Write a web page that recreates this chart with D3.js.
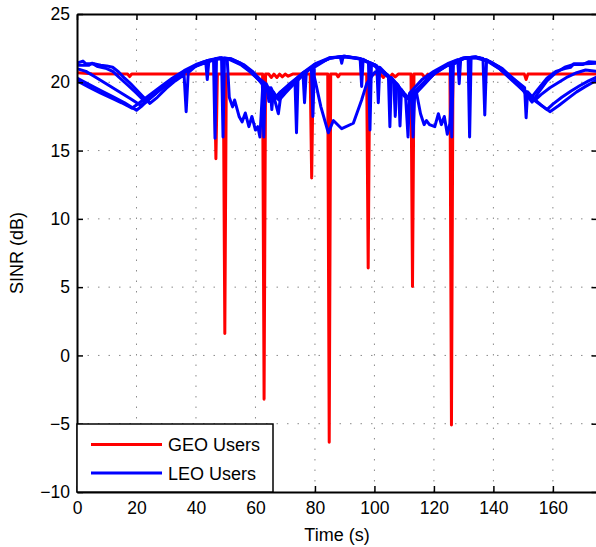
<!DOCTYPE html>
<html><head><meta charset="utf-8">
<script src="https://cdn.jsdelivr.net/npm/d3@7/dist/d3.min.js"></script>
<style>body{margin:0;background:#fff}svg{display:block}</style>
</head><body>
<svg id="c" width="596" height="547"></svg>
<script>
// ---- data ----
const xTicks = [0, 20, 40, 60, 80, 100, 120, 140, 160];
const yTicks = [-10, -5, 0, 5, 10, 15, 20, 25];
const seriesNames = ["GEO Users", "LEO Users"];

const geoT = [0, 5, 17, 17.7, 18.4, 46.2, 46.7, 47.2, 49.2, 49.7, 50.2, 62.4, 62.9, 63.4, 64.5, 65.3, 66.2, 67.2, 68.1, 69, 70, 71, 72.5, 78.4, 78.9, 79.4, 84.3, 84.8, 85.3, 87.2, 87.8, 88.4, 97.4, 97.9, 98.4, 102, 103, 104, 105, 106, 107, 108, 112.3, 112.8, 113.3, 116, 117, 118, 119, 120, 125.4, 125.9, 126.4, 150.4, 151, 151.6, 175];
const geoV = [20.7, 20.62, 20.6, 20.42, 20.6, 20.6, 14.4, 20.6, 20.6, 1.6, 20.6, 20.6, -3.2, 20.6, 20.6, 20.35, 20.6, 20.35, 20.6, 20.4, 20.6, 20.45, 20.6, 20.6, 13.0, 20.6, 20.6, -6.35, 20.6, 20.6, 20.4, 20.6, 20.6, 6.4, 20.6, 20.6, 20.35, 20.6, 20.3, 20.6, 20.4, 20.6, 20.6, 5.05, 20.6, 20.6, 20.35, 20.6, 20.4, 20.6, 20.6, -5.1, 20.6, 20.6, 20.2, 20.6, 20.6];

const leo1T = [0, 2, 3, 6, 8, 10, 12, 14, 16, 18, 20, 22, 24.5, 27, 30, 33, 36, 36.7, 37.4, 40, 44, 48, 52, 55, 58, 61, 63.8, 64.5, 65.2, 66.5, 68, 70, 73, 76, 76.5, 77.1, 80, 85, 88.5, 89, 89.5, 95, 100, 104, 104.7, 105.2, 105.7, 107, 110, 112, 112.5, 113, 113.5, 114, 117, 120, 125, 130, 134, 136.5, 137.1, 137.7, 142, 146, 150, 153, 155, 158, 161, 164, 167, 170, 172, 175];
const leo1V = [21.4, 21.55, 21.35, 21.35, 21.25, 21.2, 21.1, 20.75, 20.3, 19.9, 19.45, 19.0, 18.45, 18.9, 19.55, 20.1, 20.55, 17.85, 20.7, 21.2, 21.6, 21.8, 21.7, 21.4, 20.9, 20.3, 19.85, 18.6, 19.6, 19.0, 18.7, 19.2, 19.9, 20.55, 18.5, 20.75, 21.3, 21.75, 21.88, 21.4, 21.9, 21.75, 21.3, 20.6, 20.5, 16.75, 20.35, 20.0, 19.2, 18.75, 18.85, 16.0, 19.0, 19.2, 19.9, 20.6, 21.3, 21.75, 21.85, 21.75, 17.6, 21.65, 21.1, 20.3, 19.4, 18.55, 19.2, 20.1, 20.7, 21.1, 21.3, 21.3, 21.5, 21.45];

const leo2T = [0, 4, 5, 7, 10, 12, 14, 17, 20, 23, 26, 30, 34, 38, 42, 45.9, 46.4, 46.9, 51, 55, 58, 61, 64, 66, 67.7, 68.5, 69.5, 72, 76, 80, 85, 90, 95.2, 95.7, 96.2, 100, 104, 106.5, 107, 107.5, 110, 111.5, 113, 117, 121, 125.5, 126, 126.5, 131, 135, 139, 143, 147, 150, 152.5, 155, 158, 161, 164, 166, 167, 171, 175];
const leo2V = [21.25, 21.25, 21.4, 21.15, 21.0, 20.8, 20.4, 19.8, 19.2, 18.55, 19.1, 19.9, 20.5, 21.0, 21.45, 21.65, 15.9, 21.7, 21.75, 21.35, 20.85, 20.2, 19.4, 19.1, 17.7, 19.0, 19.3, 19.8, 20.7, 21.35, 21.8, 21.85, 21.72, 19.7, 21.68, 21.2, 20.5, 20.0, 17.5, 19.9, 19.0, 18.8, 19.2, 20.1, 20.8, 21.35, 16.0, 21.42, 21.8, 21.8, 21.5, 21.0, 20.2, 19.5, 18.8, 19.5, 20.3, 20.8, 21.0, 21.1, 21.35, 21.35, 21.4];

const leo3T = [0, 3, 6, 9, 12, 15, 18, 21.5, 24, 27, 31, 35, 39, 43.3, 43.8, 44.3, 47, 51, 55, 58, 61, 62.3, 62.8, 63.3, 64, 66.5, 68, 71, 75, 78.8, 79.3, 79.8, 85, 90, 95, 98, 98.5, 99, 104, 108, 110.5, 111.3, 111.8, 116, 120, 125, 128, 128.5, 129, 131, 134, 138, 142, 146, 150.5, 151, 151.5, 154, 156, 159, 162, 165, 168, 171, 175];
const leo3V = [21.0, 20.8, 20.4, 20.0, 19.6, 19.2, 18.8, 18.3, 18.8, 19.3, 19.95, 20.6, 21.1, 21.45, 20.2, 21.5, 21.75, 21.7, 21.3, 20.8, 20.2, 20.0, 16.0, 19.85, 19.5, 18.85, 19.2, 19.8, 20.5, 21.05, 17.5, 21.1, 21.8, 21.9, 21.7, 21.45, 16.5, 21.4, 20.6, 19.6, 18.9, 16.0, 19.2, 20.2, 20.8, 21.4, 21.65, 19.9, 21.7, 21.8, 21.85, 21.6, 21.1, 20.4, 19.6, 17.4, 19.3, 18.7, 19.1, 19.6, 20.0, 20.4, 20.7, 20.9, 20.8];

const leo4T = [0, 4, 8, 12, 16, 20, 22, 25, 28, 32, 36, 40, 44, 48.6, 49.1, 49.6, 52, 56, 59, 62, 65, 65.5, 66, 67.5, 69, 72, 73.3, 73.8, 74.3, 76, 80, 85, 90, 95, 100, 100.8, 101.3, 101.8, 104, 107, 108.1, 108.6, 109.1, 111, 113, 116, 120, 125, 130, 131.5, 132, 132.5, 134, 138, 142, 146, 150, 154, 158, 160, 163, 166, 169, 172, 175];
const leo4V = [20.3, 19.85, 19.4, 18.95, 18.5, 17.95, 18.3, 18.9, 19.45, 20.1, 20.7, 21.2, 21.55, 21.8, 16.0, 21.78, 21.7, 21.3, 20.8, 20.1, 19.5, 18.0, 19.3, 18.8, 19.1, 19.8, 20.0, 16.3, 20.15, 20.6, 21.3, 21.75, 21.9, 21.75, 21.3, 21.2, 18.5, 21.1, 20.6, 20.0, 19.75, 16.8, 19.45, 18.8, 19.1, 19.8, 20.6, 21.35, 21.8, 21.82, 16.0, 21.83, 21.85, 21.6, 21.0, 20.2, 19.4, 18.65, 18.0, 18.4, 18.9, 19.35, 19.75, 20.1, 20.4];

const leo5T = [0, 4, 8, 12, 15, 18.5, 21, 24, 28, 32, 36, 40, 44, 48, 50.5, 51.2, 52.3, 53, 54.5, 55.5, 56.6, 57.8, 58.8, 60, 60.8, 61.5, 62.5, 64, 66.5, 68.5, 72, 76, 79, 80, 82, 84.5, 86.2, 89, 92.9, 95.7, 97.4, 100, 102, 104, 107, 110, 112, 114, 115.5, 116.7, 117.5, 118.5, 120.3, 121.5, 122.5, 123.5, 124.5, 125.4, 126.5, 130, 134, 138, 142, 144, 148, 152, 156, 159, 162, 165, 168, 171, 175];
const leo5V = [20.1, 19.65, 19.2, 18.8, 18.5, 18.1, 18.5, 19.0, 19.65, 20.3, 20.85, 21.3, 21.6, 21.75, 21.7, 18.9, 18.2, 18.7, 17.5, 17.1, 17.75, 16.75, 17.5, 16.5, 16.75, 16.0, 19.9, 19.4, 18.8, 19.3, 19.9, 20.7, 21.1, 20.2, 18.2, 16.3, 17.2, 16.6, 17.0, 18.7, 19.9, 20.7, 20.95, 20.6, 19.9, 19.1, 18.7, 19.4, 17.7, 16.9, 17.2, 16.9, 16.75, 17.7, 16.9, 17.5, 16.2, 17.0, 21.3, 21.75, 21.8, 21.55, 21.0, 20.65, 19.9, 19.1, 18.35, 17.85, 18.3, 18.8, 19.3, 19.7, 20.2];

const leoT = [leo1T, leo2T, leo3T, leo4T, leo5T];
const leoV = [leo1V, leo2V, leo3V, leo4V, leo5V];

// ---- chart ----
const W = 596, H = 547;
const L = 77, R = 597.5, T = 14, B = 492;
const svg = d3.select("#c");
const x = d3.scaleLinear().domain([0, 175]).range([L, R]);
const y = d3.scaleLinear().domain([-10, 25]).range([B, T]);
const FONT = "'Liberation Sans', Arial, Helvetica, sans-serif";

// grid
const grid = svg.append("g").attr("stroke", "#8a8a8a").attr("stroke-width", 1)
  .attr("stroke-dasharray", "1.5,9");
grid.selectAll("line.v").data(xTicks.filter(d => d > 0)).join("line")
  .attr("x1", d => x(d)).attr("x2", d => x(d)).attr("y1", B).attr("y2", T);
grid.selectAll("line.h").data(yTicks.filter(d => d > -10 && d < 25)).join("line")
  .attr("class", "h")
  .attr("x1", L).attr("x2", R).attr("y1", d => y(d)).attr("y2", d => y(d));

// clip
svg.append("clipPath").attr("id", "clip").append("rect")
  .attr("x", L).attr("y", T).attr("width", R - L).attr("height", B - T);
const plot = svg.append("g").attr("clip-path", "url(#clip)");

const line = d3.line().x(d => x(d[0])).y(d => y(d[1]));
const zip = (ts, vs) => ts.map((t, i) => [t, vs[i]]);

plot.append("path").datum(zip(geoT, geoV)).attr("d", line)
  .attr("fill", "none").attr("stroke", "#ff0000").attr("stroke-width", 3)
  .attr("stroke-linejoin", "round");

leoT.forEach((ts, k) => {
  plot.append("path").datum(zip(ts, leoV[k])).attr("d", line)
    .attr("fill", "none").attr("stroke", "#0000ff").attr("stroke-width", 3)
    .attr("stroke-linejoin", "round");
});

// axes (box with inward ticks on all sides)
const axB = d3.axisBottom(x).tickValues(xTicks).tickSizeInner(-6).tickSizeOuter(0).tickPadding(10);
const axT = d3.axisTop(x).tickValues(xTicks).tickSizeInner(-6).tickSizeOuter(0).tickFormat("");
const axLf = d3.axisLeft(y).tickValues(yTicks).tickSizeInner(-6).tickSizeOuter(0).tickPadding(7);
const axRt = d3.axisRight(y).tickValues(yTicks).tickSizeInner(-6).tickSizeOuter(0).tickFormat("");

function style(g) {
  g.selectAll(".domain").attr("stroke", "#000").attr("stroke-width", 2);
  g.selectAll(".tick line").attr("stroke", "#000").attr("stroke-width", 1.5);
  g.selectAll("text").attr("fill", "#000").style("font-family", FONT).style("font-size", "17.5px");
}
svg.append("g").attr("transform", `translate(0,${B})`).call(axB).call(style)
  .selectAll("text").attr("dy", "0.71em");
svg.append("g").attr("transform", `translate(0,${T})`).call(axT).call(style);
svg.append("g").attr("transform", `translate(${L},0)`).call(axLf).call(style);
svg.append("g").attr("transform", `translate(${R},0)`).call(axRt).call(style);

// axis labels
svg.append("text").attr("x", 337).attr("y", 541).attr("text-anchor", "middle")
  .style("font-family", FONT).style("font-size", "18px").text("Time (s)");
svg.append("text").attr("transform", "translate(23,253) rotate(-90)").attr("text-anchor", "middle")
  .style("font-family", FONT).style("font-size", "18px").text("SINR (dB)");

// legend
const lg = svg.append("g");
lg.append("rect").attr("x", L).attr("y", 424).attr("width", 196).attr("height", 68)
  .attr("fill", "#fff").attr("stroke", "#000").attr("stroke-width", 1.5);
const colors = ["#ff0000", "#0000ff"];
seriesNames.forEach((n, i) => {
  const yy = 444.5 + i * 28.5;
  lg.append("line").attr("x1", 91).attr("x2", 162).attr("y1", yy).attr("y2", yy)
    .attr("stroke", colors[i]).attr("stroke-width", 3);
  lg.append("text").attr("x", 168).attr("y", yy + 6.5)
    .style("font-family", FONT).style("font-size", "18px").text(n);
});
</script>
</body></html>
